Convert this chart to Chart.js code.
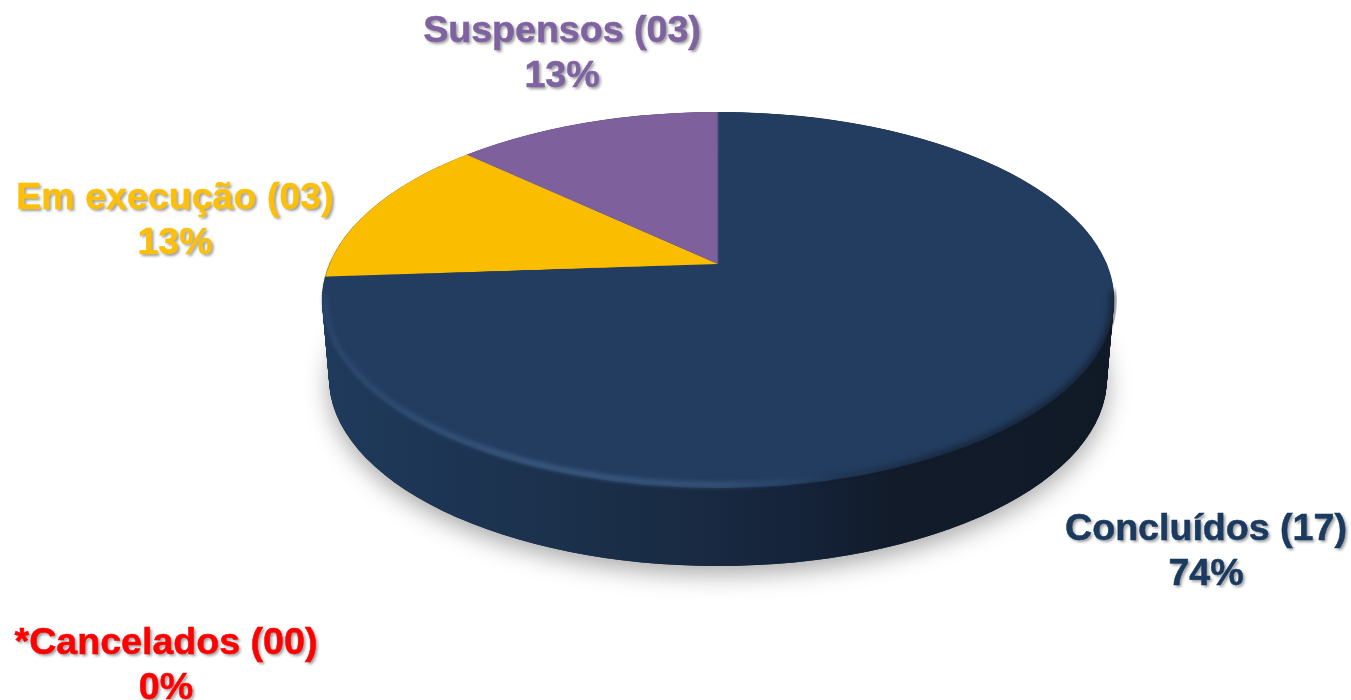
<!DOCTYPE html>
<html>
<head>
<meta charset="utf-8">
<script src="https://cdn.jsdelivr.net/npm/chart.js@4"></script>
<style>
html,body{margin:0;padding:0;background:#fff;overflow:hidden;}
#wrap{position:relative;width:1351px;height:700px;}
#pie{position:absolute;left:0;top:0;}
.lbl{position:absolute;transform:translate(-50%,-50%);white-space:nowrap;text-align:center;
font-family:"Liberation Sans",Arial,sans-serif;font-weight:bold;font-size:37.6px;line-height:44.5px;
-webkit-text-stroke:.5px currentColor;
text-shadow:2px 2px 3px rgba(0,0,0,.4);}
</style>
</head>
<body>
<div id="wrap"><canvas id="pie" width="1351" height="700"></canvas></div>
<script>
// ================= DATA =================
const categories = ["Concluídos","Em execução","Suspensos","*Cancelados"];
const counts = [17,3,3,0];
const percents = [74,13,13,0];

// ================= STYLE =================
const sliceColors = ["#233d60","#fbbd00","#7e609c","#ff0000"];
const textColors = ["#1b3a60","#fdbf0a","#7f63a1","#ff0000"];
const labelCenters = [[1206,549],[175,218],[562,51],[166,663]];

// perspective of the pie top
const apexX = 718, apexY = 264;
const tiltK = -0.1915, tiltA = 181.1, topR = 388.6;
const topE = {x:718,y:300,rx:396,ry:188};
const botE = {x:718,y:378,rx:389,ry:188};


// ================= LABELS =================
const wrap = document.getElementById("wrap");
categories.forEach((c,i)=>{
let div = document.createElement("div");
div.className = "lbl";
div.style.color = textColors[i];
div.style.left = labelCenters[i][0]+"px";
div.style.top = labelCenters[i][1]+"px";
div.innerHTML = `${c} (${String(counts[i]).padStart(2,"0")})<br>${percents[i]}%`;
wrap.appendChild(div);
});


// ================= SIDE OF THE PIE =================
function drawSide(ctx){
let grad = ctx.createLinearGradient(topE.x-topE.rx,0,topE.x+topE.rx,0);
grad.addColorStop(0,"#1f3a5c");
grad.addColorStop(0.22,"#1c3350");
grad.addColorStop(0.45,"#192b43");
grad.addColorStop(0.6,"#15233a");
grad.addColorStop(0.72,"#111b2a");
grad.addColorStop(1,"#101a27");

// soft shadow under the base
ctx.save();
ctx.shadowColor = "rgba(0,0,0,.34)";
ctx.shadowBlur = 24;
ctx.shadowOffsetX = 0;
ctx.shadowOffsetY = 8;
ctx.fillStyle = "#16243a";
ctx.beginPath();
ctx.ellipse(botE.x,botE.y,botE.rx,botE.ry,0,0,Math.PI*2);
ctx.fill();
ctx.restore();

ctx.fillStyle = grad;
let steps = botE.y-topE.y;
for(let i=0;i<=steps;i++){
let t = i/steps;
ctx.beginPath();
ctx.ellipse(botE.x,botE.y-i,botE.rx+(topE.rx-botE.rx)*t,botE.ry,0,0,Math.PI*2);
ctx.fill();
}
}


// ================= RIM LIGHT AND SHADE =================
function drawRim(ctx){
let light = ctx.createLinearGradient(topE.x-topE.rx,0,topE.x+topE.rx,0);
light.addColorStop(0,"rgba(70,105,150,.3)");
light.addColorStop(0.25,"rgba(85,120,165,.7)");
light.addColorStop(0.5,"rgba(85,118,160,.55)");
light.addColorStop(0.66,"rgba(70,100,140,0)");
light.addColorStop(1,"rgba(70,100,140,0)");

let dark = ctx.createLinearGradient(topE.x-topE.rx,0,topE.x+topE.rx,0);
dark.addColorStop(0,"rgba(16,26,39,0)");
dark.addColorStop(0.58,"rgba(16,26,39,0)");
dark.addColorStop(0.78,"rgba(16,26,39,.8)");
dark.addColorStop(1,"rgba(16,26,39,.9)");

ctx.save();
ctx.beginPath();
ctx.ellipse(topE.x,topE.y,topE.rx+3,topE.ry+3,0,0,Math.PI*2);
ctx.clip();
ctx.filter = "blur(3px)";
ctx.lineWidth = 5;
ctx.strokeStyle = dark;
ctx.beginPath();
ctx.ellipse(topE.x,topE.y,topE.rx-1,topE.ry-1,0,-0.05,Math.PI);
ctx.stroke();
ctx.filter = "blur(2.5px)";
ctx.strokeStyle = light;
ctx.lineWidth = 4;
ctx.beginPath();
ctx.ellipse(topE.x,topE.y,topE.rx-3,topE.ry-3,0,0,Math.PI+0.03);
ctx.stroke();
ctx.restore();
}


// ================= PLUGIN: TILT THE FLAT PIE =================
const tiltPlugin = {
id:"tilt",
afterDatasetsDraw(chart){
let ctx = chart.ctx;
let canvas = chart.canvas;
let arc = chart.getDatasetMeta(0).data[0];
let cx = arc.x, cy = arc.y, R = arc.outerRadius;
let dpr = chart.currentDevicePixelRatio;

let flat = document.createElement("canvas");
flat.width = canvas.width;
flat.height = canvas.height;
flat.getContext("2d").drawImage(canvas,0,0);

ctx.clearRect(0,0,chart.width,chart.height);
drawSide(ctx);

let rowV = y => { let d = y-apexY; return d/(tiltA-tiltK*d); };
let yTop = Math.floor(apexY-tiltA/(1-tiltK))-1;
let yBot = Math.ceil(apexY+tiltA/(1+tiltK))+1;

ctx.imageSmoothingEnabled = true;
ctx.imageSmoothingQuality = "high";
for(let y=yTop;y<yBot;y++){
let v0 = rowV(y), v1 = rowV(y+1);
let s = (topR/R)/(1+tiltK*(v0+v1)/2);
let sy = cy+R*v0, sh = R*(v1-v0);
if(sy+sh<0 || sy>chart.height) continue;
ctx.drawImage(flat,
0,sy*dpr,flat.width,sh*dpr,
apexX-cx*s,y,chart.width*s,1);
}

drawRim(ctx);
}
};


// ================= CHART =================
new Chart(document.getElementById("pie"),{
type:"pie",
data:{
labels:categories,
datasets:[{
data:counts,
backgroundColor:sliceColors,
borderWidth:0,
clip:false
}]
},
options:{
responsive:false,
animation:false,
layout:{padding:0},
plugins:{legend:{display:false},tooltip:{enabled:false}}
},
plugins:[tiltPlugin]
});
</script>
</body>
</html>
